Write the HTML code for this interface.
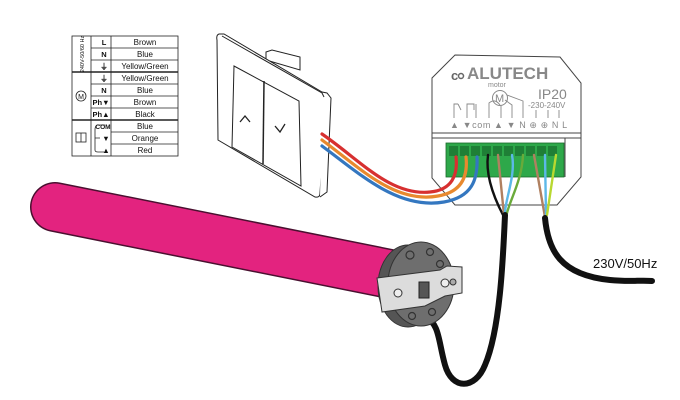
<!DOCTYPE html>
<html><head><meta charset="utf-8"><style>
html,body{margin:0;padding:0;background:#fff}
svg{display:block}
text{font-family:"Liberation Sans",sans-serif}
</style></head><body>
<svg width="680" height="400" viewBox="0 0 680 400" xmlns="http://www.w3.org/2000/svg">
<!-- table -->
<g stroke="#222" stroke-width="0.8" fill="none">
<rect x="72" y="36" width="106" height="120"/>
<line x1="91" y1="36" x2="91" y2="156"/>
<line x1="111" y1="36" x2="111" y2="156"/>
<line x1="72" y1="72" x2="178" y2="72" stroke-width="1.4"/>
<line x1="72" y1="120" x2="178" y2="120" stroke-width="1.4"/>
<line x1="91" y1="48" x2="178" y2="48"/><line x1="91" y1="60" x2="178" y2="60"/>
<line x1="91" y1="84" x2="178" y2="84"/><line x1="91" y1="96" x2="178" y2="96"/><line x1="91" y1="108" x2="178" y2="108"/>
<line x1="111" y1="132" x2="178" y2="132"/><line x1="111" y1="144" x2="178" y2="144"/>
<circle cx="81" cy="96" r="5"/>
<rect x="76" y="133" width="10" height="9"/><line x1="81" y1="133" x2="81" y2="142"/>
<path d="M105,125 H98 Q95,125 95,130 V150 Q95,152 98,152 H104 M95,138 H100"/>
</g>
<g font-size="8" fill="#111" text-anchor="middle">
<text x="145" y="45">Brown</text><text x="145" y="57">Blue</text><text x="145" y="69">Yellow/Green</text>
<text x="145" y="81">Yellow/Green</text><text x="145" y="93">Blue</text><text x="145" y="105">Brown</text>
<text x="145" y="117">Black</text><text x="145" y="129">Blue</text><text x="145" y="141">Orange</text><text x="145" y="153">Red</text>
<g font-weight="bold" font-size="7.5"><text x="104" y="45">L</text><text x="104" y="57">N</text><text x="104" y="69">⏚</text>
<text x="104" y="81">⏚</text><text x="104" y="93">N</text><text x="101" y="105">Ph▼</text><text x="101" y="117">Ph▲</text>
<text x="103" y="129" font-size="6.5">COM</text><text x="106" y="141">▼</text><text x="106" y="153">▲</text></g>
<text x="81" y="99" font-size="7">M</text>
<text transform="translate(84,54) rotate(-90)" font-size="5.5">240V-50/60 Hz</text>
</g>
<!-- switch -->
<g stroke="#222" stroke-width="1" fill="#fff">
<path d="M266,52 L272,50 L300,57 L300,70 L266,60 Z" fill="#fff"/>
<path d="M219,34 Q216,35 217,40 L218,140 L315,197 Q320,198 320,193 L326,100 Q327,95 322,92 L224,34 Z"/>
<path d="M322,92 L327,93 L331,98 L327,192 L320,197" fill="#fff"/>
<path d="M222,36 L322,93 L324,97" fill="none"/>
<path d="M234,66 L299,101 L301,186 L232,147 Z"/>
<path d="M264,81 L263,164" fill="none" stroke-width="1.5"/>
<path d="M240,122 L245,116 L250,122 M275,126 L280,132 L285,124" fill="none" stroke-width="1.3"/>
</g>
<!-- module -->
<g stroke="#444" stroke-width="1" fill="#fff">
<path d="M455,55 L560,57 L581,83 L581,177 L557,205 L455,205 L432,178 L432,78 Z"/>
<line x1="432" y1="133" x2="581" y2="133"/><line x1="432" y1="138" x2="581" y2="138"/>
<line x1="565" y1="138" x2="565" y2="177"/>
</g>
<rect x="446" y="143" width="118" height="34" fill="#2ea84a" stroke="#1a6a2a" stroke-width="0.8"/>
<g fill="#1f7f36">
<rect x="449" y="146" width="9" height="10"/><rect x="460" y="146" width="9" height="10"/><rect x="471" y="146" width="9" height="10"/>
<rect x="482" y="146" width="9" height="10"/><rect x="493" y="146" width="9" height="10"/><rect x="504" y="146" width="9" height="10"/>
<rect x="515" y="146" width="9" height="10"/><rect x="526" y="146" width="9" height="10"/><rect x="537" y="146" width="9" height="10"/><rect x="548" y="146" width="9" height="10"/>
</g>
<text x="467" y="79" font-size="17" font-weight="bold" fill="#888">ALUTECH</text>
<text x="451" y="80" font-size="13" font-weight="bold" fill="#666">c</text>
<circle cx="461" cy="76" r="2.5" fill="none" stroke="#666" stroke-width="1.5"/>
<text x="488" y="87" font-size="7" fill="#888">motor</text>
<circle cx="500" cy="98" r="7.5" fill="none" stroke="#888" stroke-width="1"/>
<text x="495" y="102" font-size="11" fill="#888">M</text>
<text x="538" y="99" font-size="14" fill="#888">IP20</text>
<text x="528" y="108" font-size="8" fill="#888">-230-240V</text>
<g stroke="#888" stroke-width="0.9" fill="none">
<path d="M454,118 V104 H458 M467,118 V104 H474 V110 M476,118 V104 M458,104 L461,110 M468,104"/>
<path d="M489,118 V103 Q495,98 500,105 M501,118 V106 M512,118 V105 L505,100 M507,95 L523,101 V118 M536,118 V110 M548,118 V110 M559,118 V110"/>
</g>
<text x="450" y="128" font-size="9" fill="#888" letter-spacing="0.6">▲ ▼com ▲ ▼ N ⊕ ⊕ N L</text>
<!-- switch wires -->
<g fill="none" stroke-width="3.2" stroke-linecap="round">
<path d="M322,134 C360,160 390,196 430,192 C452,190 458,175 456,157" stroke="#d73030"/>
<path d="M322,140 C360,168 395,204 438,196 C462,192 468,176 466,157" stroke="#e8892e"/>
<path d="M322,146 C360,174 398,210 444,202 C472,197 478,180 477,157" stroke="#3477c0"/>
</g>
<!-- motor wires -->
<g fill="none" stroke-width="2.4" stroke-linecap="round">
<path d="M488,155 C486,170 490,190 503,215" stroke="#111"/>
<path d="M498,155 L504,215" stroke="#b08060"/>
<path d="M512,155 C516,175 505,200 505,213" stroke="#5cb8e8"/>
<path d="M523,155 C522,180 510,200 507,213" stroke="#6aaa3a"/>
<path d="M534,155 L545,217" stroke="#b08060"/>
<path d="M545,155 L546,215" stroke="#5cb8e8"/>
<path d="M556,155 L547,215" stroke="#b8d830"/>
</g>
<g fill="none" stroke="#111" stroke-width="6" stroke-linecap="round">
<path d="M505,215 C503,260 500,330 485,365 C475,390 452,390 445,365 C438,340 440,325 425,316"/>
<path d="M545,218 C548,250 560,275 610,280 C630,282 640,280 652,281"/>
</g>
<text x="593" y="268" font-size="13" fill="#111">230V/50Hz</text>
<!-- tube -->
<line x1="55" y1="207" x2="395" y2="275" stroke="#4a1030" stroke-width="50" stroke-linecap="round"/>
<line x1="55" y1="207" x2="395" y2="275" stroke="#e3237f" stroke-width="47" stroke-linecap="round"/>
<!-- motor head -->
<ellipse cx="408" cy="286" rx="30" ry="41" fill="#555" stroke="#333"/>
<ellipse cx="421" cy="284" rx="33" ry="42" fill="#6e6e6e" stroke="#333"/>
<g fill="none" stroke="#333" stroke-width="1.2">
<circle cx="410" cy="255" r="4"/><circle cx="430" cy="252" r="3.5"/><circle cx="440" cy="264" r="3.5"/>
<circle cx="412" cy="316" r="3.5"/><circle cx="432" cy="312" r="3.5"/><circle cx="400" cy="305" r="3.5"/>
</g>
<path d="M377,278 L440,270 L447,266 L462,267 L462,293 L445,296 L425,306 L382,312 Z" fill="#dcdcdc" stroke="#333"/>
<rect x="419" y="282" width="10" height="16" fill="#555" stroke="#222"/>
<circle cx="398" cy="293" r="4" fill="#eee" stroke="#333"/>
<circle cx="445" cy="283" r="4" fill="#eee" stroke="#333"/>
<circle cx="453" cy="282" r="3" fill="#aaa" stroke="#333"/>
</svg>
</body></html>
